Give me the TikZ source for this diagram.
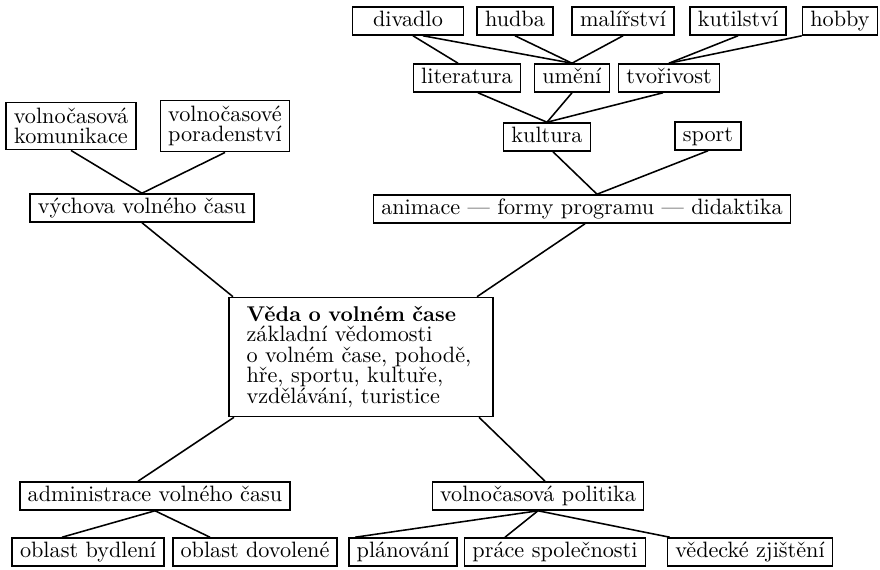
\documentclass[tikz,border=0pt]{standalone}
\usepackage{fontspec}
\usetikzlibrary{calc}
\tikzset{every node/.style={ % Sets the properties for each box
      draw,
      line width=0.7pt,
      font=\fontsize{10}{9.2}\selectfont},
      item/.style={ % One line of text
      inner xsep=3.5pt,
      inner ysep=1.6pt,
      text height=7pt,
      text depth=2.4pt},
      pair/.style={ % Two lines, centred
      align=center,
      inner xsep=3.5pt,
      inner ysep=2.5pt},
      core/.style={ % The main box in the middle
      align=left,
      text width=103pt,
      inner xsep=8pt,
      inner ysep=4pt},
      link/.style={line width=0.7pt}}

\begin{document}
\begin{tikzpicture}[x=0.45pt, y=-0.45pt]
      \useasboundingbox (0,0) rectangle (880,570);
      % top row
      \node[item, minimum width=50pt] (div) at (408,21) {divadlo};
      \node[item] (hud) at (515,21) {hudba};
      \node[item] (mal) at (623,21) {malířství};
      \node[item] (kut) at (738,21) {kutilství};
      \node[item] (hob) at (840,21) {hobby};
      % second row
      \node[item] (lit) at (467,78) {literatura};
      \node[item] (um) at (572,78) {umění};
      \node[item] (tvo) at (669,78) {tvořivost};
      \node[item] (kul) at (547,137) {kultura};
      \node[item] (spo) at (708,136) {sport};
      \node[item] (ani) at (582,209) {animace — formy programu — didaktika};
      % left branch
      \node[pair] (kom) at (71,126) {volnočasová\\komunikace};
      \node[pair] (por) at (225,126) {volnočasové\\poradenství};
      \node[item] (vych) at (142,208) {výchova volného času};
      % centre
      \node[core] (veda) at (361,357) {{\fontsize{9.6}{9.2}\selectfont\bfseries Věda o volném čase}\\základní vědomosti\\o volném čase, pohodě,\\hře, sportu, kultuře,\\vzdělávání, turistice};
      % bottom
      \node[item] (adm) at (155,496) {administrace volného času};
      \node[item] (pol) at (538,496) {volnočasová politika};
      \node[item] (byd) at (88,552) {oblast bydlení};
      \node[item] (dov) at (255,552) {oblast dovolené};
      \node[item] (pla) at (403,552) {plánování};
      \node[item] (pra) at (555,552) {práce společnosti};
      \node[item] (ved) at (750,552) {vědecké zjištění};
      \coordinate (aniTop) at ($(ani.north)+(15,0)$);
      \draw[link] ($(div.south)+(5,0)$) -- ($(lit.north)+(-9,0)$);
      \draw[link] ($(div.south)+(15,0)$) -- (um.north);
      \draw[link] (hud.south) -- (um.north);
      \draw[link] (mal.south) -- (um.north);
      \draw[link] (kut.south) -- (tvo.north);
      \draw[link] (hob.south west) -- (tvo.north);
      \draw[link] ($(lit.south)+(11,0)$) -- (kul.north);
      \draw[link] (um.south) -- (kul.north);
      \draw[link] ($(tvo.south)+(-6,0)$) -- (kul.north);
      \draw[link] ($(kul.south)+(6,0)$) -- (aniTop);
      \draw[link] (spo.south) -- (aniTop);
      \draw[link] (kom.south) -- (vych.north);
      \draw[link] (por.south) -- (vych.north);
      \draw[link] (vych.south) -- ($(veda.north west)+(5,0)$);
      \draw[link] ($(ani.south)+(3,0)$) -- ($(veda.north east)+(-17,0)$);
      \draw[link] ($(veda.south west)+(6,0)$) -- ($(adm.north)+(-17,0)$);
      \draw[link] ($(veda.south east)+(-15,0)$) -- ($(pol.north)+(7,0)$);
      \draw[link] (adm.south) -- ($(byd.north)+(-26,0)$);
      \draw[link] (adm.south) -- ($(dov.north)+(-45,0)$);
      \draw[link] (pol.south) -- ($(pla.north west)+(7,0)$);
      \draw[link] (pol.south) -- ($(pra.north)+(-50,0)$);
      \draw[link] (pol.south) -- ($(ved.north west)+(3,0)$);
    \end{tikzpicture}
\end{document}
